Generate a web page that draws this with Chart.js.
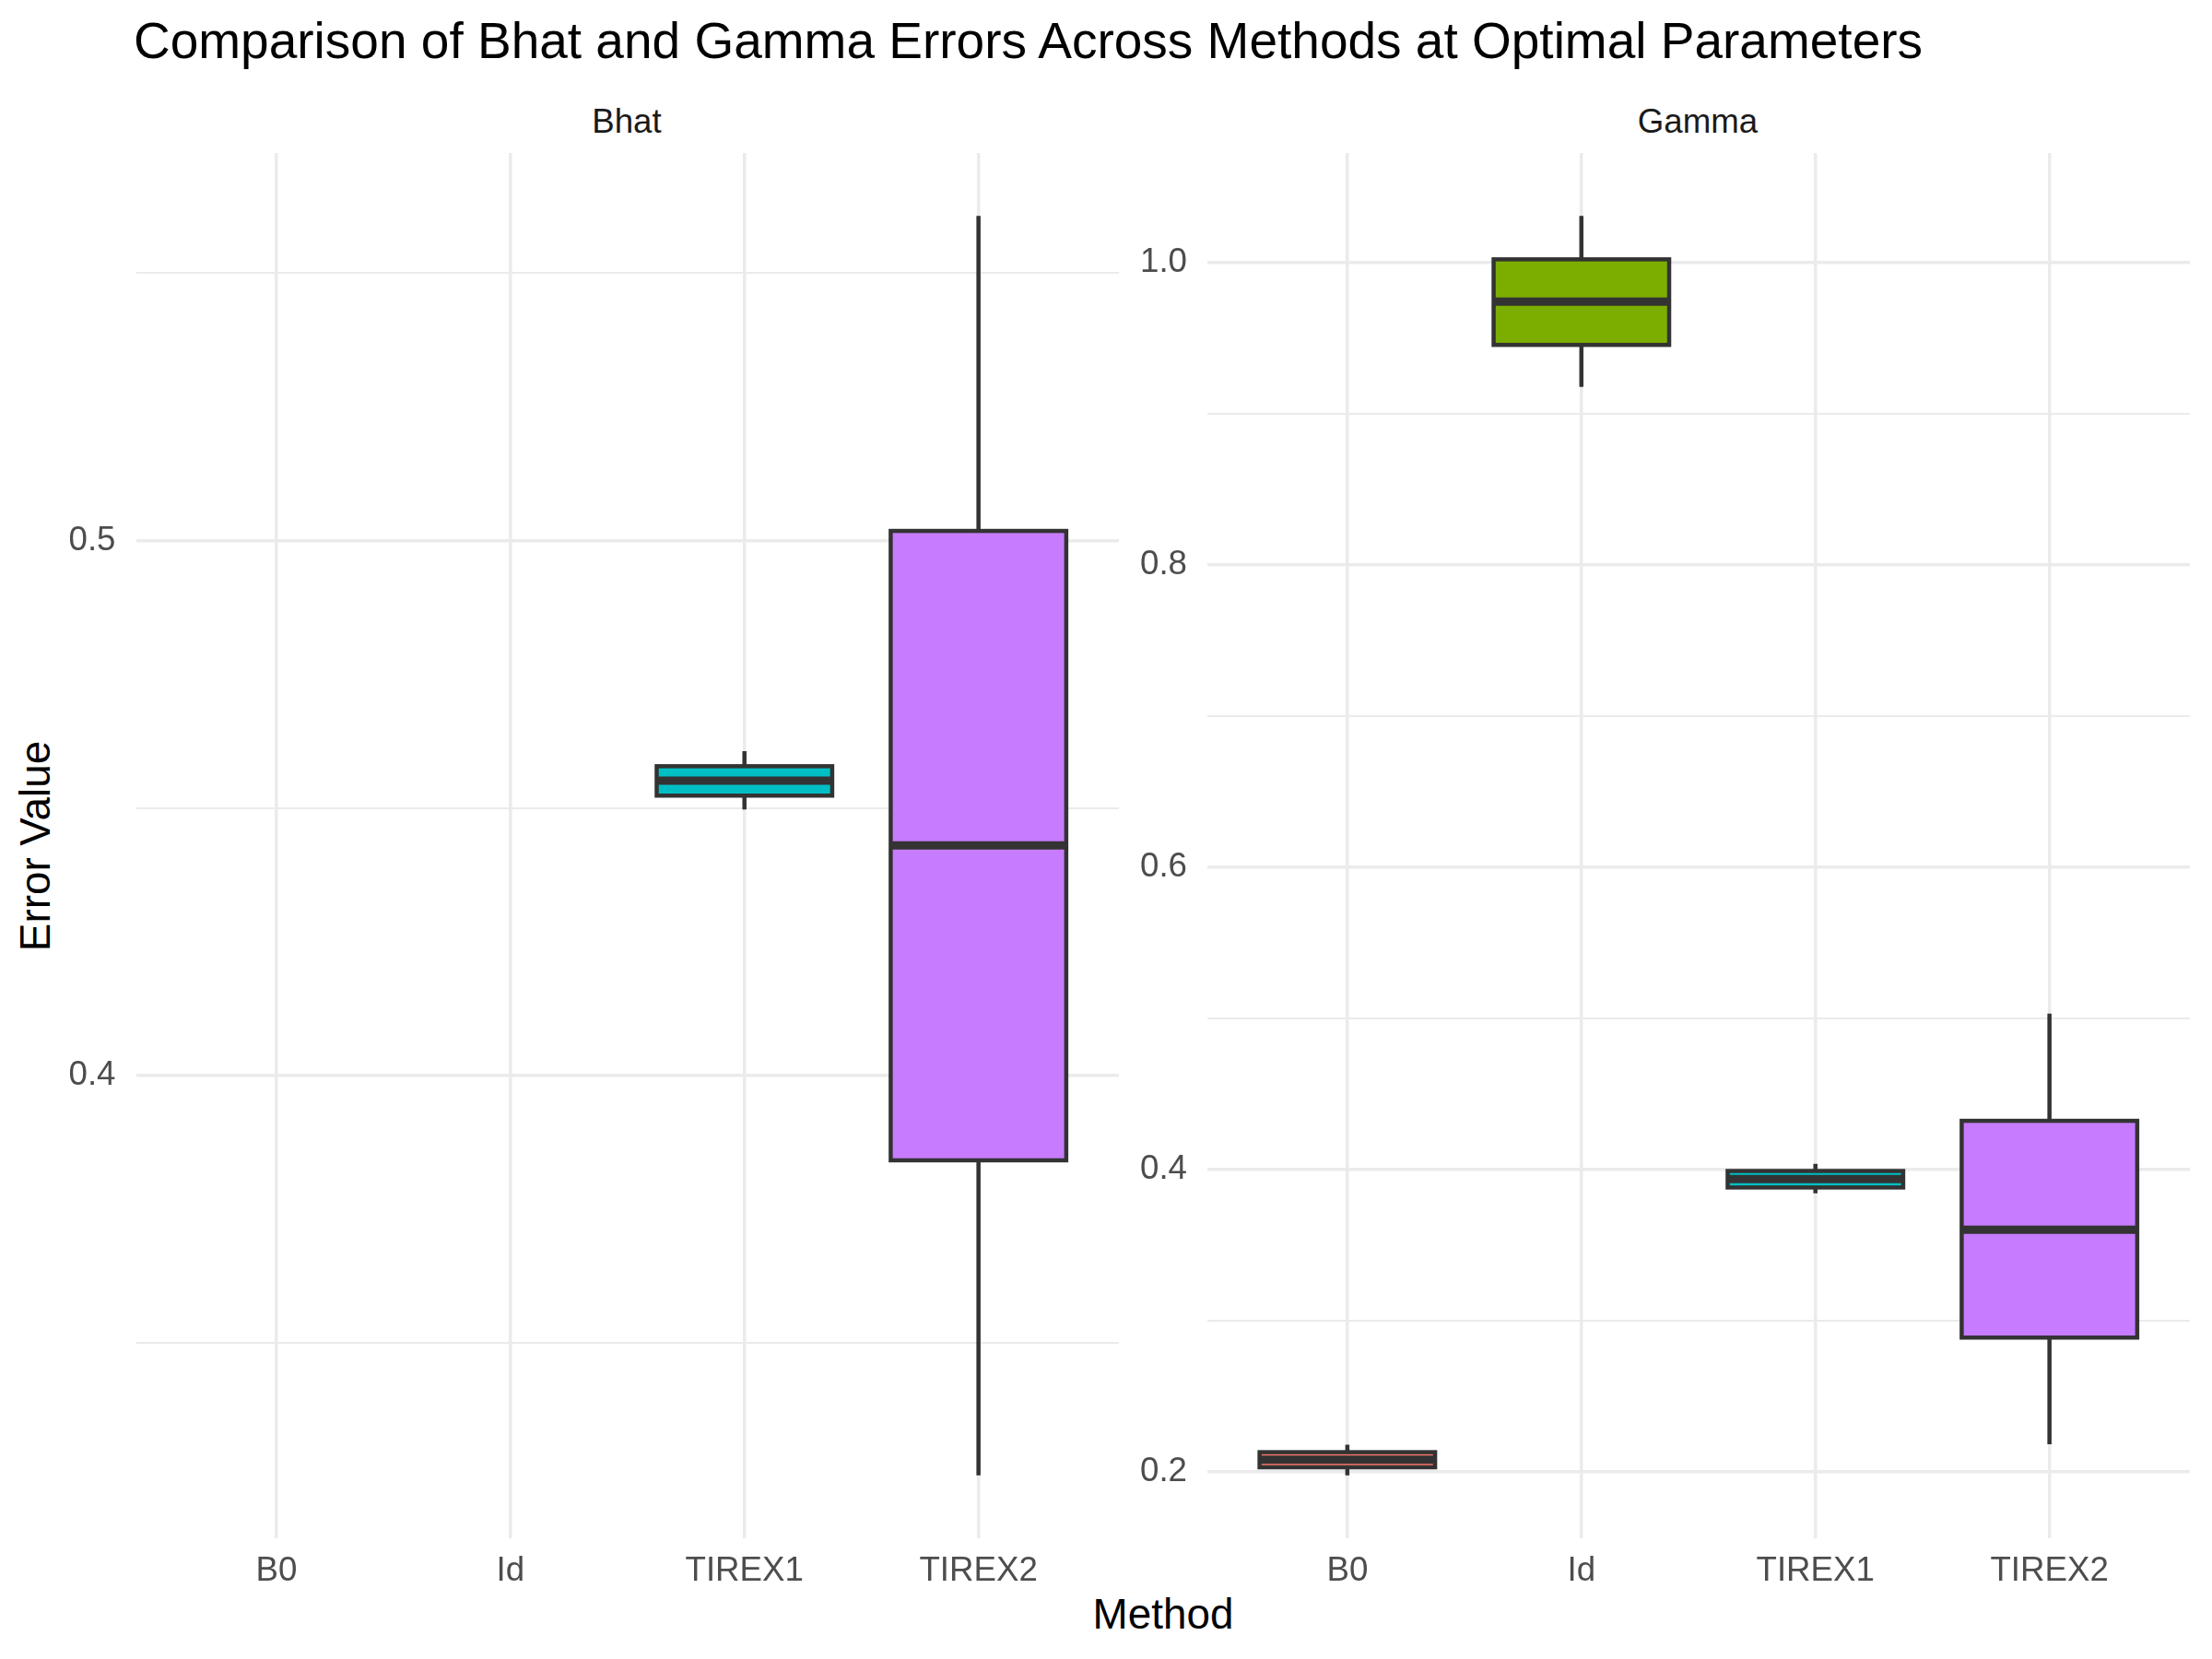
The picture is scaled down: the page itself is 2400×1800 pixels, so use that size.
<!DOCTYPE html>
<html>
<head>
<meta charset="utf-8">
<script src="https://cdn.jsdelivr.net/npm/chart.js@4.4.1/dist/chart.umd.min.js"></script>
<style>
  html, body { margin: 0; padding: 0; background: #ffffff; }
  body { width: 2400px; height: 1800px; position: relative; overflow: hidden;
         font-family: "Liberation Sans", Arial, Helvetica, sans-serif; }
  .txt { position: absolute; white-space: nowrap; }
  canvas { position: absolute; }
</style>
</head>
<body>
<div class="txt" style="left:145px; top:17px; font-size:55px; line-height:55px; color:#000000;">Comparison of Bhat and Gamma Errors Across Methods at Optimal Parameters</div>
<div class="txt" style="left:480px; width:400px; text-align:center; top:114px; font-size:36.7px; line-height:36.7px; color:#1A1A1A;">Bhat</div>
<div class="txt" style="left:1642px; width:400px; text-align:center; top:114px; font-size:36.7px; line-height:36.7px; color:#1A1A1A;">Gamma</div>
<div class="txt" style="left:-261px; width:600px; text-align:center; top:895px; height:46px; font-size:45.8px; line-height:45.8px; color:#000000; transform:rotate(-90deg); transform-origin:50% 50%;">Error Value</div>
<div class="txt" style="left:1062px; width:400px; text-align:center; top:1729px; font-size:45.8px; line-height:45.8px; color:#000000;">Method</div>

<canvas id="bhat" width="1214" height="1643" style="left:0px; top:126px;"></canvas>
<canvas id="gamma" width="1162" height="1643" style="left:1214px; top:126px;"></canvas>

<script>
// ---------------- data ----------------
const methods = ['B0', 'Id', 'TIREX1', 'TIREX2'];
const fillColors = ['#F8766D', '#7CAE00', '#00BFC4', '#C77CFF'];

const bhatMin    = [null, null, 0.4497, 0.3252];
const bhatQ1     = [null, null, 0.4523, 0.3841];
const bhatMedian = [null, null, 0.4551, 0.4430];
const bhatQ3     = [null, null, 0.4578, 0.5018];
const bhatMax    = [null, null, 0.4606, 0.5607];

const gammaMin    = [0.1977, 0.9178, 0.3843, 0.2182];
const gammaQ1     = [0.2030, 0.9455, 0.3881, 0.2888];
const gammaMedian = [0.2080, 0.9741, 0.3937, 0.3601];
const gammaQ3     = [0.2130, 1.0021, 0.3990, 0.4322];
const gammaMax    = [0.2180, 1.0308, 0.4038, 0.5031];

const bhatTicks       = [0.35, 0.40, 0.45, 0.50, 0.55];
const bhatTickLabels  = ['', '0.4', '', '0.5', ''];
const gammaTicks      = [0.2, 0.3, 0.4, 0.5, 0.6, 0.7, 0.8, 0.9, 1.0];
const gammaTickLabels = ['0.2', '', '0.4', '', '0.6', '', '0.8', '', '1.0'];

// ---------------- helpers ----------------
const FONT = '"Liberation Sans", Arial, Helvetica, sans-serif';
const GRID = '#EBEBEB';
const INK = '#333333';

function buildPoints(mins, q1s, meds, q3s, maxs) {
  const pts = [];
  methods.forEach((m, i) => {
    if (q1s[i] === null) return;
    pts.push({ x: i, y: [q1s[i], q3s[i]], lo: mins[i], med: meds[i], hi: maxs[i] });
  });
  return pts;
}

function expandedRange(mins, maxs) {
  const lo = Math.min(...mins.filter(v => v !== null));
  const hi = Math.max(...maxs.filter(v => v !== null));
  const pad = (hi - lo) * 0.05;
  return [lo - pad, hi + pad];
}

const boxPlugin = {
  id: 'boxplotParts',
  beforeDatasetsDraw(chart) {
    const ctx = chart.ctx, ys = chart.scales.y;
    const meta = chart.getDatasetMeta(0);
    const data = chart.data.datasets[0].data;
    ctx.save();
    ctx.strokeStyle = INK;
    ctx.lineWidth = 4.5;
    ctx.lineCap = 'butt';
    meta.data.forEach((el, i) => {
      const d = data[i];
      ctx.beginPath();
      ctx.moveTo(el.x, ys.getPixelForValue(d.hi));
      ctx.lineTo(el.x, ys.getPixelForValue(d.y[1]));
      ctx.moveTo(el.x, ys.getPixelForValue(d.y[0]));
      ctx.lineTo(el.x, ys.getPixelForValue(d.lo));
      ctx.stroke();
    });
    ctx.restore();
  },
  afterDatasetsDraw(chart) {
    const ctx = chart.ctx, ys = chart.scales.y;
    const meta = chart.getDatasetMeta(0);
    const data = chart.data.datasets[0].data;
    ctx.save();
    ctx.strokeStyle = INK;
    ctx.lineCap = 'butt';
    ctx.lineJoin = 'miter';
    meta.data.forEach((el, i) => {
      const d = data[i];
      const top = ys.getPixelForValue(d.y[1]);
      const bot = ys.getPixelForValue(d.y[0]);
      const left = el.x - el.width / 2;
      ctx.lineWidth = 4.5;
      ctx.strokeRect(left, top, el.width, bot - top);
      const ym = ys.getPixelForValue(d.med);
      ctx.lineWidth = 9;
      ctx.beginPath();
      ctx.moveTo(left, ym);
      ctx.lineTo(left + el.width, ym);
      ctx.stroke();
    });
    ctx.restore();
  }
};

function makePanel(canvasId, points, range, ticks, tickLabels, yAxisWidth, yPad) {
  const xPositions = methods.map((m, i) => i);
  return new Chart(document.getElementById(canvasId), {
    type: 'bar',
    data: {
      datasets: [{
        data: points,
        backgroundColor: c => fillColors[c.raw ? c.raw.x : 0],
        borderWidth: 0,
        categoryPercentage: 1.0,
        barPercentage: 0.75
      }]
    },
    options: {
      responsive: false,
      animation: false,
      devicePixelRatio: 1,
      layout: { padding: { top: 40, left: 0, right: 0, bottom: 0 } },
      plugins: { legend: { display: false }, tooltip: { enabled: false }, title: { display: false } },
      scales: {
        x: {
          type: 'linear',
          offset: false,
          min: -0.6,
          max: methods.length - 1 + 0.6,
          afterBuildTicks: s => { s.ticks = xPositions.map(v => ({ value: v })); },
          afterFit: s => { s.height = 100; s.paddingLeft = 0; s.paddingRight = 0; },
          ticks: {
            autoSkip: false, maxRotation: 0, minRotation: 0,
            padding: 14,
            color: '#4D4D4D',
            font: { family: FONT, size: 36.7 },
            callback: (v, i) => methods[i]
          },
          grid: { color: GRID, lineWidth: 3.5, drawTicks: false, offset: false },
          border: { display: false }
        },
        y: {
          type: 'linear',
          beginAtZero: false,
          min: range[0],
          max: range[1],
          afterBuildTicks: s => { s.ticks = ticks.map(v => ({ value: v })); },
          afterFit: s => { s.width = yAxisWidth; s.paddingTop = 0; s.paddingBottom = 0; },
          ticks: {
            autoSkip: false,
            padding: yPad,
            color: '#4D4D4D',
            font: { family: FONT, size: 36.7 },
            callback: (v, i) => tickLabels[i]
          },
          grid: {
            color: GRID,
            lineWidth: c => (tickLabels[c.index] ? 3.5 : 2),
            drawTicks: false
          },
          border: { display: false }
        }
      }
    },
    plugins: [boxPlugin]
  });
}

makePanel('bhat',
  buildPoints(bhatMin, bhatQ1, bhatMedian, bhatQ3, bhatMax),
  expandedRange(bhatMin, bhatMax),
  bhatTicks, bhatTickLabels, 147.5, 22);

makePanel('gamma',
  buildPoints(gammaMin, gammaQ1, gammaMedian, gammaQ3, gammaMax),
  expandedRange(gammaMin, gammaMax),
  gammaTicks, gammaTickLabels, 95.5, 21.5);
</script>
</body>
</html>
